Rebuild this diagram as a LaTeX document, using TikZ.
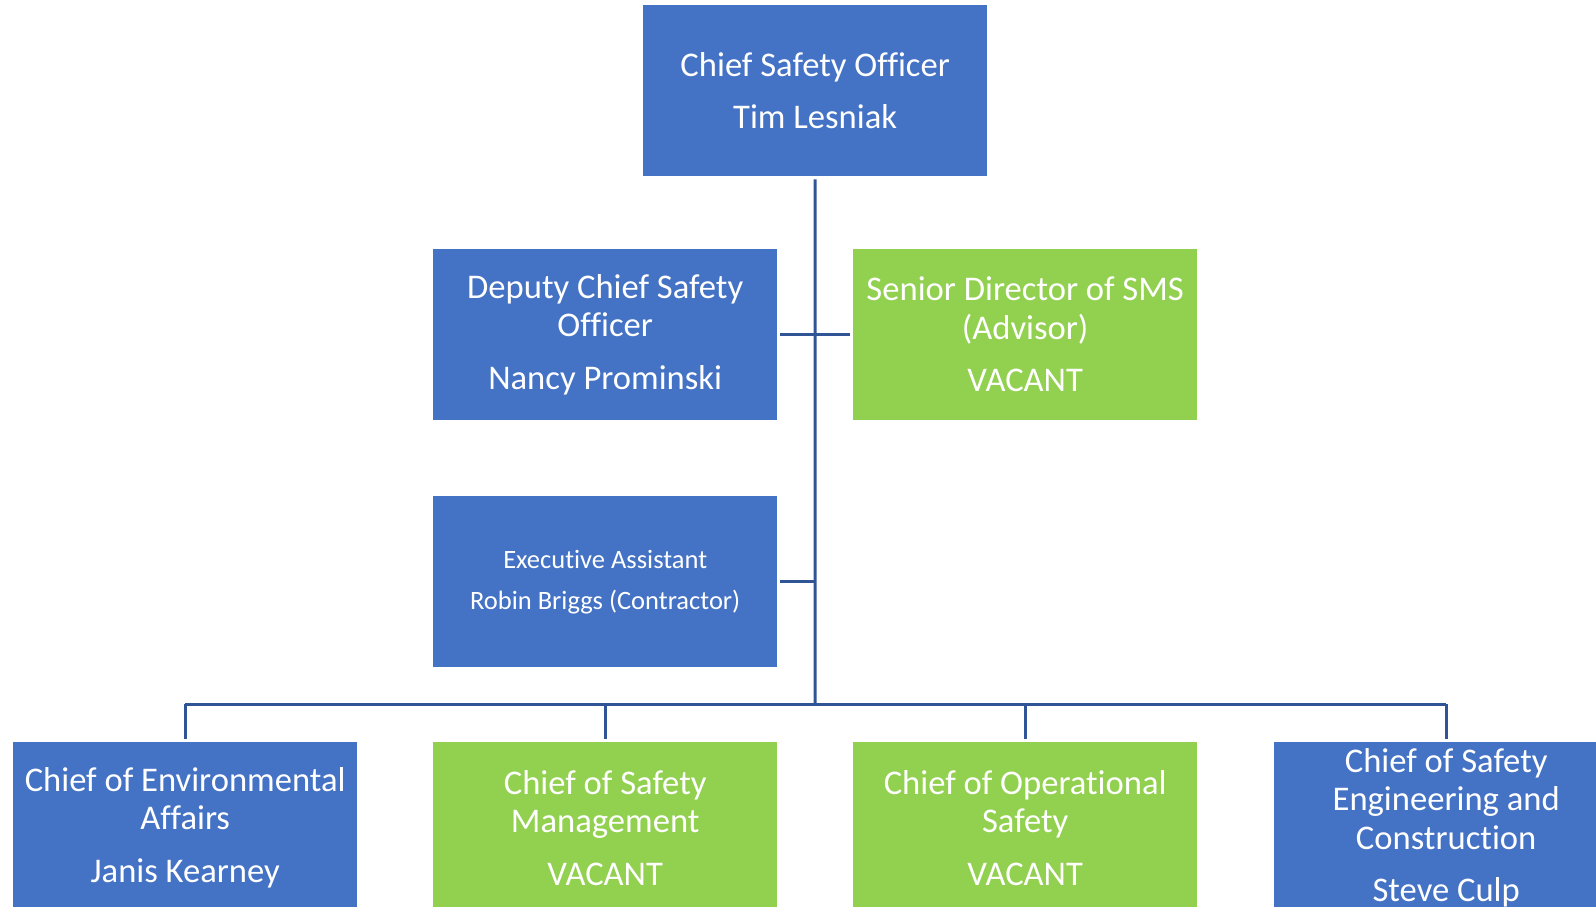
\documentclass[tikz,border=0pt]{standalone}
\usepackage{fontspec}
\setmainfont{Carlito}[Ligatures=NoCommon]
\definecolor{boxblue}{HTML}{4472C4}
\definecolor{boxgreen}{HTML}{92D050}
\definecolor{linkblue}{HTML}{2F5597}
\begin{document}
\begin{tikzpicture}[x=1pt,y=-1pt,
  orgbox/.style={minimum width=344pt, minimum height=171pt, inner sep=0pt, text=white, align=center, font=\fontsize{34.6}{38.5}\selectfont, anchor=north west},
  bluebox/.style={orgbox, fill=boxblue},
  greenbox/.style={orgbox, fill=boxgreen},
  link/.style={draw=linkblue, line width=3pt}]
\useasboundingbox (0,0) rectangle (1596,907);
\clip (0,0) rectangle (1596,907);
\node[bluebox] (ceo) at (643,5) {Chief Safety Officer\\[14pt]Tim Lesniak};
\node[bluebox] (deputy) at (433,249) {Deputy Chief Safety\\Officer\\[14pt]Nancy Prominski};
\node[greenbox] (sms) at (853,249) {Senior Director of SMS\\(Advisor)\\[14pt]VACANT};
\node[bluebox, font=\fontsize{26.5}{29}\selectfont] (exec) at (433,496) {Executive Assistant\\[12pt]Robin Briggs (Contractor)};
\node[bluebox] (env) at (13,742) {Chief of Environmental\\Affairs\\[14pt]Janis Kearney};
\node[greenbox] (mgmt) at (433,742) {Chief of Safety\\Management\\[14pt]VACANT};
\node[greenbox] (ops) at (853,742) {Chief of Operational\\Safety\\[14pt]VACANT};
\node[bluebox] (eng) at (1274,742) {Chief of Safety\\Engineering and\\Construction\\[14pt]Steve Culp};
\coordinate (bus) at (815,704);
\draw[link, shorten <=3pt] (ceo.south) -- (bus);
\draw[link, shorten <=3pt, shorten >=3pt] (deputy.east) -- (sms.west);
\draw[link, shorten <=3pt] (exec.east) -- (exec.east -| bus);
\draw[link] (env.north |- bus) -- (eng.north |- bus);
\draw[link, shorten >=3pt] (env.north |- bus) -- (env.north);
\draw[link, shorten >=3pt] (mgmt.north |- bus) -- (mgmt.north);
\draw[link, shorten >=3pt] (ops.north |- bus) -- (ops.north);
\draw[link, shorten >=3pt] (eng.north |- bus) -- (eng.north);
\end{tikzpicture}
\end{document}
